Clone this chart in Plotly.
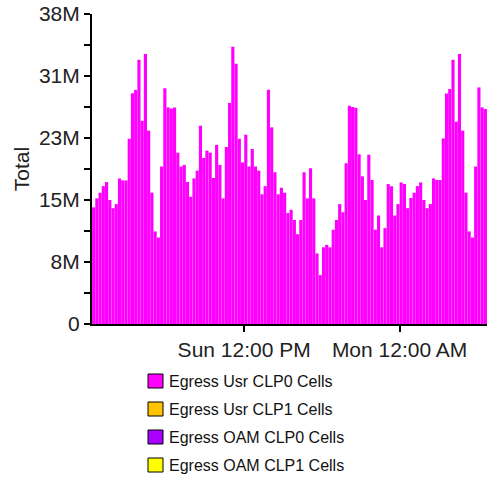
import pandas as pd
import plotly.graph_objects as go

# 15 minute samples starting Sun 00:15, values in millions of cells
start = "2004-03-07 00:15"
end = "2004-03-08 06:45"
egress_usr_clp0 = [
    14.3, 15.4, 16.1, 16.9, 17.4, 15.2, 14.2, 14.7, 17.85, 17.6,
    17.6, 22.7, 28.3, 28.7, 32.4, 24.9, 33.1, 23.7, 16.1, 11.35,
    10.6, 19.3, 28.9, 26.55, 26.4, 26.55, 21.0, 19.3, 19.5, 17.4,
    15.6, 17.85, 18.8, 24.3, 20.35, 21.25, 21.0, 17.9, 21.95, 19.5,
    15.4, 21.7, 27.1, 34.0, 31.9, 22.7, 19.8, 23.2, 19.3, 21.45,
    19.3, 18.8, 15.9, 16.9, 28.7, 24.1, 18.6, 15.9, 16.7, 16.1,
    13.6, 14.0, 12.75, 11.0, 12.75, 18.6, 15.4, 19.1, 15.4, 8.65,
    6.0, 9.4, 9.7, 9.4, 11.55, 12.75, 14.7, 13.7, 19.7, 26.75,
    26.6, 26.5, 20.8, 18.1, 15.2, 20.75, 17.65, 11.55, 13.3, 9.4,
    11.75, 17.15, 16.9, 13.3, 14.7, 17.35, 17.15, 14.2, 15.45, 16.1,
    16.9, 17.35, 15.2, 14.2, 14.7, 17.85, 17.65, 17.65, 22.75, 28.25,
    28.8, 32.4, 24.8, 33.1, 23.7, 16.1, 11.35, 10.6, 19.3, 29.0,
    26.55, 26.35,
]
times = pd.date_range(start=start, periods=len(egress_usr_clp0), freq="15min")

# axis ticks
y_tickvals = [0, 7.6, 15.2, 22.8, 30.4, 38]
y_ticktext = ["0", "8M", "15M", "23M", "31M", "38M"]
y_minor = [3.8, 11.4, 19.0, 26.6, 34.2]
x_tickvals = ["2004-03-07 12:00", "2004-03-08 00:00"]
x_ticktext = ["Sun 12:00 PM", "Mon 12:00 AM"]

# legend
series_names = ["Egress Usr CLP0 Cells", "Egress Usr CLP1 Cells",
                "Egress OAM CLP0 Cells", "Egress OAM CLP1 Cells"]
series_colors = ["#FF00FF", "#FFC400", "#AA00FF", "#FFFF00"]

W, H = 487, 481
L, R, T, B = 92, 0, 14, 157
pw, ph = W - L - R, H - T - B
font = "Liberation Sans, Arial, sans-serif"

fig = go.Figure()
fig.add_trace(go.Bar(
    x=times, y=egress_usr_clp0, name=series_names[0],
    marker=dict(color=series_colors[0], line=dict(width=0)),
    xperiod=15 * 60 * 1000, xperiodalignment="middle",
    showlegend=False,
))


def px_x(x):
    return (x - L) / pw


def px_y(y):
    return (H - B - y) / ph


# hand drawn legend (boxes with black outline like the original)
shapes = []
annotations = []
for i, (name, col) in enumerate(zip(series_names, series_colors)):
    cy = 381 + i * 28
    shapes.append(dict(type="rect", xref="paper", yref="paper",
                       x0=px_x(148), x1=px_x(163), y0=px_y(cy - 7), y1=px_y(cy + 7),
                       fillcolor=col, line=dict(color="black", width=1)))
    annotations.append(dict(xref="paper", yref="paper", x=px_x(167), y=px_y(cy),
                            xanchor="left", yanchor="middle", showarrow=False,
                            text=name, font=dict(family=font, size=16, color="#111")))

fig.update_layout(
    width=W, height=H,
    margin=dict(l=L, r=R, t=T, b=B, autoexpand=False),
    paper_bgcolor="white", plot_bgcolor="white",
    bargap=0.03,
    font=dict(family=font, size=21, color="#222"),
    shapes=shapes, annotations=annotations,
)
fig.update_yaxes(
    range=[0, 38], tickmode="array", tickvals=y_tickvals, ticktext=y_ticktext,
    ticks="outside", ticklen=6, tickwidth=2, tickcolor="black",
    minor=dict(tickmode="array", tickvals=y_minor, ticks="outside",
               ticklen=6, tickwidth=2, tickcolor="black", showgrid=False),
    showline=True, linecolor="black", linewidth=2,
    showgrid=False, zeroline=False, automargin=False,
    title=dict(text="Total", font=dict(size=21), standoff=4),
)
fig.update_xaxes(
    type="date", range=[start, end],
    tickmode="array", tickvals=x_tickvals, ticktext=x_ticktext,
    ticks="outside", ticklen=6, tickwidth=2, tickcolor="black",
    showline=True, linecolor="black", linewidth=2,
    showgrid=False, zeroline=False, automargin=False,
)

# the page body has a default 8px margin, drop it so the figure sits at 0,0
fig.write_html("out.html", config={"displayModeBar": False},
               post_script="document.body.style.margin='0';")
